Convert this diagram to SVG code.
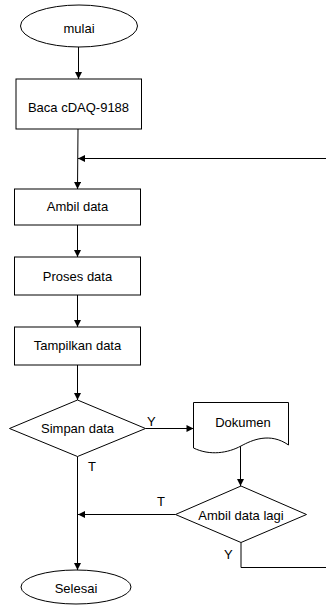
<svg xmlns="http://www.w3.org/2000/svg" width="326" height="605" viewBox="0 0 326 605">
<style>
.s{fill:#fff;stroke:#000;stroke-width:1}
.t{font-family:"Liberation Sans",Arial,sans-serif;font-size:13px;fill:#000;text-anchor:middle;dominant-baseline:central}
.l{font-family:"Liberation Sans",Arial,sans-serif;font-size:13px;fill:#000}
.c{fill:none;stroke:#000;stroke-width:1}
.a{marker-end:url(#ah)}
</style>
<defs>
<marker id="ah" viewBox="0 0 10 10" refX="10" refY="5" markerWidth="8" markerHeight="7" markerUnits="userSpaceOnUse" orient="auto">
<path d="M0,0 L10,5 L0,10 Z" fill="#000"/>
</marker>
</defs>
<rect width="326" height="605" fill="#fff"/>
<g id="connectors">
<line class="c a" x1="78.5" y1="47" x2="78.5" y2="79"/>
<line class="c a" x1="78" y1="129" x2="77.5" y2="189"/>
<line class="c a" x1="326" y1="158.5" x2="78" y2="158.5"/>
<line class="c a" x1="77.5" y1="225" x2="77.5" y2="257"/>
<line class="c a" x1="77.5" y1="295" x2="77.5" y2="327"/>
<line class="c a" x1="77.5" y1="365" x2="77.5" y2="400"/>
<line class="c a" x1="145.5" y1="428.5" x2="193.5" y2="428.5"/>
<line class="c a" x1="240.5" y1="446" x2="240.5" y2="486"/>
<line class="c a" x1="77.5" y1="456.5" x2="77.5" y2="570"/>
<line class="c a" x1="175.5" y1="514.5" x2="78" y2="514.5"/>
<polyline class="c" points="241,542.5 241,567.5 326,567.5"/>
<text class="l" x="147" y="426">Y</text>
<text class="l" x="88" y="471">T</text>
<text class="l" x="157" y="506">T</text>
<text class="l" x="224" y="559">Y</text>
</g>
<g id="mulai">
<ellipse class="s" cx="79" cy="26" rx="58.5" ry="21"/>
<text class="t" x="79" y="28">mulai</text>
</g>
<g id="baca">
<rect class="s" x="16" y="79" width="125.5" height="50"/>
<text class="t" x="78.5" y="107">Baca cDAQ-9188</text>
</g>
<g id="ambil">
<rect class="s" x="14.5" y="189" width="126" height="36"/>
<text class="t" x="77.5" y="206">Ambil data</text>
</g>
<g id="proses">
<rect class="s" x="14.5" y="257" width="126" height="38"/>
<text class="t" x="77.5" y="276">Proses data</text>
</g>
<g id="tampilkan">
<rect class="s" x="14.5" y="327" width="126" height="38"/>
<text class="t" x="77.5" y="345">Tampilkan data</text>
</g>
<g id="simpan">
<polygon class="s" points="77.5,400 145.5,428.5 77.5,456.5 9.5,428.5"/>
<text class="t" x="77.5" y="428">Simpan data</text>
</g>
<g id="dokumen">
<path class="s" d="M193.5,402.5 H288.5 V445 C270,432 252,440 241,446 C228,453 210,456 193.5,448 Z"/>
<text class="t" x="243" y="422.5">Dokumen</text>
</g>
<g id="ambillagi">
<polygon class="s" points="241,486 306.5,514.5 241,542.5 175.5,514.5"/>
<text class="t" x="241" y="515">Ambil data lagi</text>
</g>
<g id="selesai">
<ellipse class="s" cx="76" cy="587" rx="55" ry="17"/>
<text class="t" x="76" y="588">Selesai</text>
</g>
</svg>
